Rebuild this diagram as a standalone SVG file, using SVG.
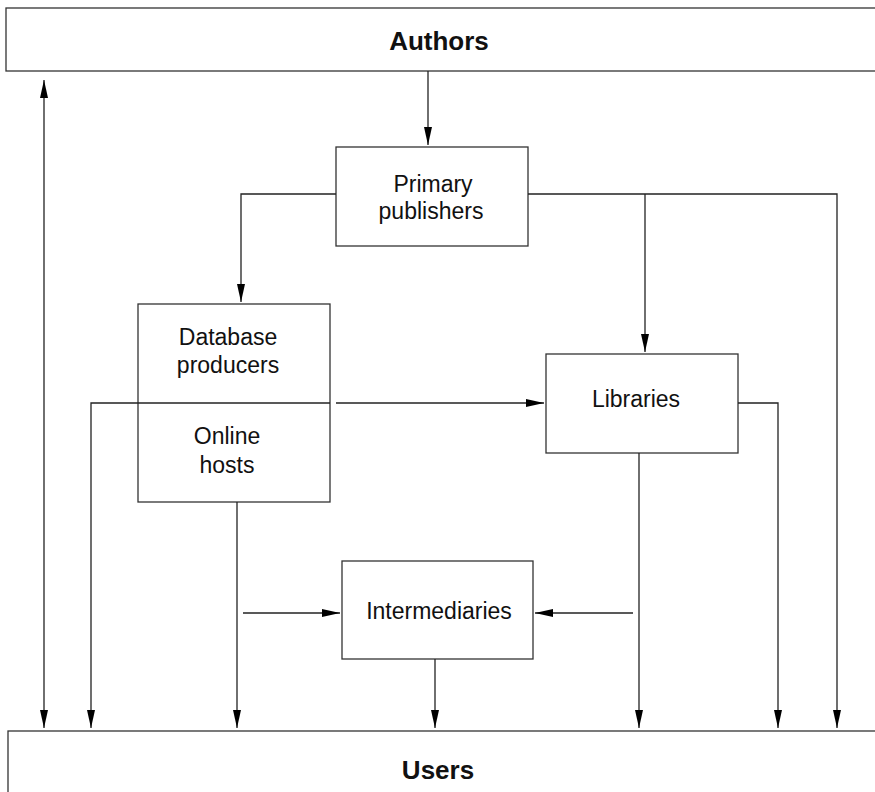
<svg xmlns="http://www.w3.org/2000/svg" width="875" height="792" viewBox="0 0 875 792">
  <style>
    .box { fill: #fff; stroke: #333; stroke-width: 1.3; }
    .lbl { font-family: "Liberation Sans", Arial, sans-serif; font-size: 23px; fill: #111; text-anchor: middle; }
    .big { font-family: "Liberation Sans", Arial, sans-serif; font-size: 26px; font-weight: bold; fill: #111; text-anchor: middle; }
    .wire { fill: none; stroke: #222; stroke-width: 1.3; }
  </style>
  <defs>
    <marker id="head" markerUnits="userSpaceOnUse" markerWidth="18" markerHeight="8" refX="18" refY="4" orient="auto-start-reverse">
      <path d="M0,0 L18,4 L0,8 z" fill="#000"/>
    </marker>
  </defs>
  <rect width="875" height="792" fill="#fff"/>

  <g id="authors">
    <rect class="box" x="6" y="8" width="880" height="63"/>
    <text class="big" x="439" y="50">Authors</text>
  </g>

  <g id="primary-publishers">
    <rect class="box" x="336" y="147" width="192" height="99"/>
    <text class="lbl" x="433" y="192">Primary</text>
    <text class="lbl" x="431" y="219">publishers</text>
  </g>

  <g id="database-online">
    <rect class="box" x="138" y="304" width="192" height="198"/>
    <line class="wire" x1="138" y1="403" x2="330" y2="403"/>
    <text class="lbl" x="228" y="345">Database</text>
    <text class="lbl" x="228" y="373">producers</text>
    <text class="lbl" x="227" y="444">Online</text>
    <text class="lbl" x="227" y="473">hosts</text>
  </g>

  <g id="libraries">
    <rect class="box" x="546" y="354" width="192" height="99"/>
    <text class="lbl" x="636" y="407">Libraries</text>
  </g>

  <g id="intermediaries">
    <rect class="box" x="342" y="561" width="191" height="98"/>
    <text class="lbl" x="439" y="619">Intermediaries</text>
  </g>

  <g id="users">
    <rect class="box" x="8" y="731" width="880" height="80"/>
    <text class="big" x="438" y="779">Users</text>
  </g>

  <g id="connectors">
    <line class="wire" x1="44" y1="80" x2="44" y2="728" marker-start="url(#head)" marker-end="url(#head)"/>
    <line class="wire" x1="428" y1="71" x2="428" y2="145" marker-end="url(#head)"/>
    <path class="wire" d="M336,194 H241 V302" marker-end="url(#head)"/>
    <path class="wire" d="M528,194 H837 V728" marker-end="url(#head)"/>
    <line class="wire" x1="645" y1="194" x2="645" y2="352" marker-end="url(#head)"/>
    <path class="wire" d="M138,403 H91 V728" marker-end="url(#head)"/>
    <line class="wire" x1="336" y1="403" x2="544" y2="403" marker-end="url(#head)"/>
    <path class="wire" d="M738,403 H778 V728" marker-end="url(#head)"/>
    <line class="wire" x1="639" y1="453" x2="639" y2="728" marker-end="url(#head)"/>
    <line class="wire" x1="237" y1="502" x2="237" y2="728" marker-end="url(#head)"/>
    <line class="wire" x1="243" y1="613" x2="340" y2="613" marker-end="url(#head)"/>
    <line class="wire" x1="633" y1="613" x2="535" y2="613" marker-end="url(#head)"/>
    <line class="wire" x1="435" y1="659" x2="435" y2="728" marker-end="url(#head)"/>
  </g>
</svg>
